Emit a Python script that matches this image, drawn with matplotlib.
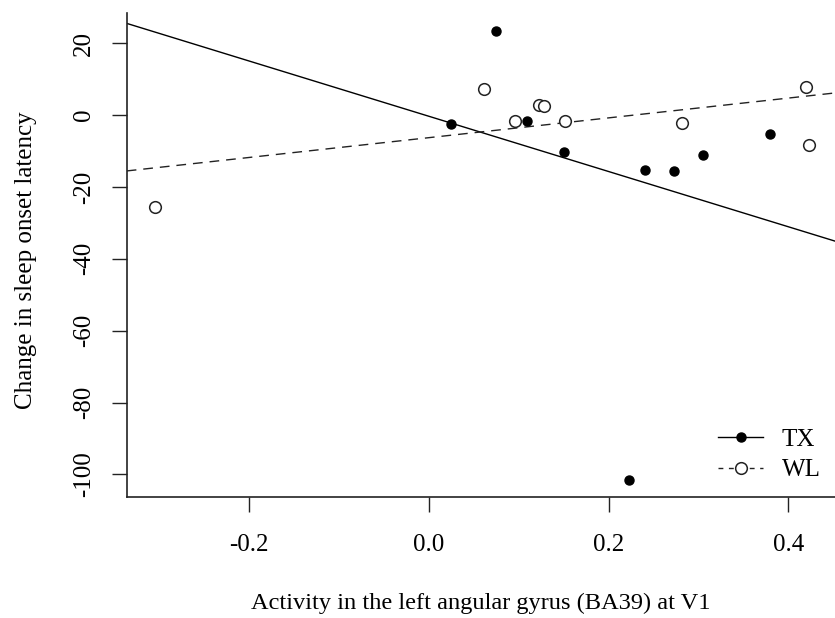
"""Sleep onset latency change vs. left angular gyrus activity, by group."""

import matplotlib

matplotlib.use("Agg")
import matplotlib.pyplot as plt
import numpy as np

plt.rcParams["font.family"] = ["Liberation Serif", "DejaVu Serif"]

# group TX (filled markers, solid fit)
tx_activity = [0.0748, 0.025, 0.109, 0.150, 0.241, 0.273, 0.305, 0.3795, 0.2225]
tx_latency = [23.4, -2.6, -1.5, -10.3, -15.2, -15.6, -11.2, -5.2, -101.5]

# group WL (open markers, dashed fit)
wl_activity = [0.061, 0.096, 0.1228, 0.1276, 0.1516, 0.2817, 0.4194, 0.4224, -0.304]
wl_latency = [7.4, -1.5, 2.8, 2.5, -1.5, -2.1, 7.7, -8.2, -25.6]

x_ticks = [-0.2, 0.0, 0.2, 0.4]
x_tick_labels = ["-0.2", "0.0", "0.2", "0.4"]
y_ticks = [20, 0, -20, -40, -60, -80, -100]

W, H = 835, 618
FS = 18

fig = plt.figure(figsize=(W / 100, H / 100), dpi=100)
left, right, top, bottom = 126.7, 835, 13.3, 496.7
ax = fig.add_axes([left / W, 1 - bottom / H, (right - left) / W, (bottom - top) / H])

ax.set_xlim(-0.336, 0.4518)
ax.set_ylim(-106.2, 28.34)

# least-squares fits, drawn across the full plot width
tx_fit = np.polyfit(tx_activity, tx_latency, 1)
wl_fit = np.polyfit(wl_activity, wl_latency, 1)
ax.axline((0, tx_fit[1]), slope=tx_fit[0], color="black", lw=1.0)
ax.axline((0, wl_fit[1]), slope=wl_fit[0], color="#222222", lw=1.0,
          linestyle=(0, (7, 5)))

ax.plot(tx_activity, tx_latency, "o", ms=6.5, color="black", mec="black")
ax.plot(wl_activity, wl_latency, "o", ms=8.4, mfc="white", mec="#222222", mew=1.1)

# legend handles carry both the line style and the marker
h_tx, = ax.plot([], [], "-o", color="black", lw=1.0, ms=6.5)
h_wl, = ax.plot([], [], marker="o", color="#222222", lw=1.0, ms=8.4,
                mfc="white", mew=1.1, linestyle=(0, (3.5, 4)))
ax.legend([h_tx, h_wl], ["TX", "WL"], loc="upper left",
          bbox_to_anchor=(718 / W, 1 - 428 / H), bbox_transform=fig.transFigure,
          frameon=False, fontsize=FS, borderpad=0, borderaxespad=0,
          handlelength=1.8, handletextpad=0.75, labelspacing=0.33)

for side in ("top", "right"):
    ax.spines[side].set_visible(False)
for side in ("left", "bottom"):
    ax.spines[side].set_linewidth(1.2)
    ax.spines[side].set_color("#222222")

ax.set_xticks(x_ticks)
ax.set_xticklabels(x_tick_labels)
ax.set_yticks(y_ticks)
ax.set_yticklabels([str(v) for v in y_ticks], rotation=90, va="center")
ax.tick_params(axis="both", direction="out", length=10.5, width=1.0,
               color="#222222", labelsize=FS)
ax.tick_params(axis="x", pad=16)
ax.tick_params(axis="y", pad=12.5)

fig.text(480.5 / W, 1 - 603 / H,
         "Activity in the left angular gyrus (BA39) at V1",
         ha="center", va="center", fontsize=17.6)
fig.text(26 / W, 1 - 260 / H, "Change in sleep onset latency",
         ha="center", va="center", rotation=90, fontsize=FS)

fig.savefig("out.png", dpi=100)
